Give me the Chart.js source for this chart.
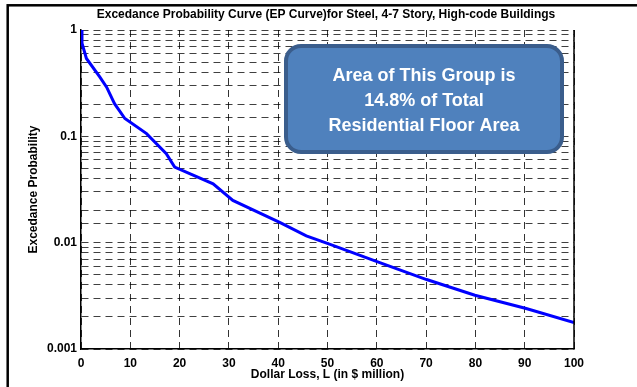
<!DOCTYPE html>
<html>
<head>
<meta charset="utf-8">
<script src="https://cdn.jsdelivr.net/npm/chart.js@4/dist/chart.umd.min.js"></script>
<style>
  html, body { margin: 0; padding: 0; background: #fff; }
  canvas { display: block; }
</style>
</head>
<body>
<canvas id="epChart" width="637" height="387"></canvas>
<script>
const chartTitle = 'Excedance Probability Curve (EP Curve)for Steel, 4-7 Story, High-code Buildings';
const xTitle = 'Dollar Loss, L (in $ million)';
const yTitle = 'Excedance Probability';

// loss in $ million
const lossValues = [0, 0.2, 1.1, 3.8, 5.2, 6.8, 8.9, 13.3, 17.3, 19.0, 26.8, 30.8, 40.3, 45.7, 50.4, 60.6, 70.1, 79.9, 90.3, 100];
const probValues = [1, 0.75, 0.54, 0.363, 0.29, 0.203, 0.147, 0.106, 0.0687, 0.0513, 0.0358, 0.025, 0.0155, 0.0116, 0.0097, 0.0065, 0.0045, 0.0032, 0.0024, 0.00177];

const xTickLabels = [0, 10, 20, 30, 40, 50, 60, 70, 80, 90, 100];
const yTickLabels = ['0.001', '0.01', '0.1', '1'];

const noteLines = ['Area of This Group is', '14.8% of Total', 'Residential Floor Area'];

const points = lossValues.map((x, i) => ({ x: x, y: probValues[i] }));
const FONT = '"Liberation Sans", Arial, Helvetica, sans-serif';

const framePlugin = {
    id: 'frame',
    beforeDraw(chart) {
        const ctx = chart.ctx;
        ctx.save();
        ctx.fillStyle = '#fff';
        ctx.fillRect(0, 0, chart.width, chart.height);
        ctx.restore();
    },
    afterDraw(chart) {
        const ctx = chart.ctx;
        const a = chart.chartArea;
        ctx.save();
        // outer frame
        ctx.strokeStyle = '#000';
        ctx.lineWidth = 2.5;
        ctx.strokeRect(7.7, 5.3, 1000, 1000);
        // right edge of the plot box
        ctx.lineWidth = 1.5;
        ctx.beginPath();
        ctx.moveTo(a.right, a.top);
        ctx.lineTo(a.right, a.bottom);
        ctx.stroke();
        // title
        ctx.fillStyle = '#000';
        ctx.font = 'bold 12px ' + FONT;
        ctx.textAlign = 'center';
        ctx.textBaseline = 'middle';
        ctx.fillText(chartTitle, 326, 15);
        ctx.restore();
    }
};

const notePlugin = {
    id: 'note',
    afterDatasetsDraw(chart) {
        const ctx = chart.ctx;
        const x = 286, y = 46, w = 276, h = 106, r = 15;
        ctx.save();
        ctx.beginPath();
        ctx.roundRect(x, y, w, h, r);
        ctx.fillStyle = '#4f81bd';
        ctx.fill();
        ctx.lineWidth = 4;
        ctx.strokeStyle = '#3a5d8c';
        ctx.stroke();
        ctx.fillStyle = '#fff';
        ctx.font = 'bold 18px ' + FONT;
        ctx.textAlign = 'center';
        ctx.textBaseline = 'middle';
        noteLines.forEach((line, i) => {
            ctx.fillText(line, x + w / 2, 76 + i * 25);
        });
        ctx.restore();
    }
};

function isDecade(v) {
    const l = Math.log10(v);
    return Math.abs(l - Math.round(l)) < 1e-9;
}

const data = {
    datasets: [{
        label: 'EP Curve',
        data: points,
        borderColor: '#0000ff',
        borderWidth: 3,
        pointRadius: 0,
        tension: 0,
        fill: false
    }]
};

const options = {
    responsive: false,
    animation: false,
    devicePixelRatio: 1,
    layout: { padding: { top: 30, right: 63, bottom: 0, left: 0 } },
    plugins: {
        legend: { display: false },
        tooltip: { enabled: false }
    },
    scales: {
        x: {
            type: 'linear',
            min: 0,
            max: 100,
            ticks: {
                stepSize: 10,
                padding: 7,
                color: '#000',
                font: { family: FONT, size: 12, weight: 'bold' },
                callback: (v) => xTickLabels.includes(v) ? String(v) : ''
            },
            grid: { color: 'rgba(0,0,0,0.8)', lineWidth: 1, drawTicks: false },
            border: { display: true, color: '#000', width: 1.5, dash: [7, 5] },
            title: {
                display: true,
                text: xTitle,
                color: '#000',
                font: { family: FONT, size: 12, weight: 'bold' },
                padding: { top: 0, bottom: 5 }
            },
            afterFit(scale) {
                scale.height = 38;
                scale.paddingLeft = 0;
                scale.paddingRight = 0;
            }
        },
        y: {
            type: 'logarithmic',
            min: 0.001,
            max: 1,
            ticks: {
                autoSkip: false,
                padding: 4,
                color: '#000',
                font: { family: FONT, size: 12, weight: 'bold' },
                callback: (v) => {
                    if (!isDecade(v)) return '';
                    const idx = Math.round(Math.log10(v)) + 3;
                    return yTickLabels[idx];
                }
            },
            grid: { color: 'rgba(0,0,0,0.75)', lineWidth: 1, drawTicks: false },
            border: { display: true, color: '#000', width: 1.5, dash: [7, 5] },
            title: {
                display: true,
                text: yTitle,
                color: '#000',
                font: { family: FONT, size: 12, weight: 'bold' },
                padding: { top: 26, bottom: 0 }
            },
            afterFit(scale) {
                scale.width = 81;
                scale.paddingTop = 0;
                scale.paddingBottom = 0;
            }
        }
    }
};

new Chart('epChart', { type: 'line', data, options, plugins: [framePlugin, notePlugin] });
</script>
</body>
</html>
